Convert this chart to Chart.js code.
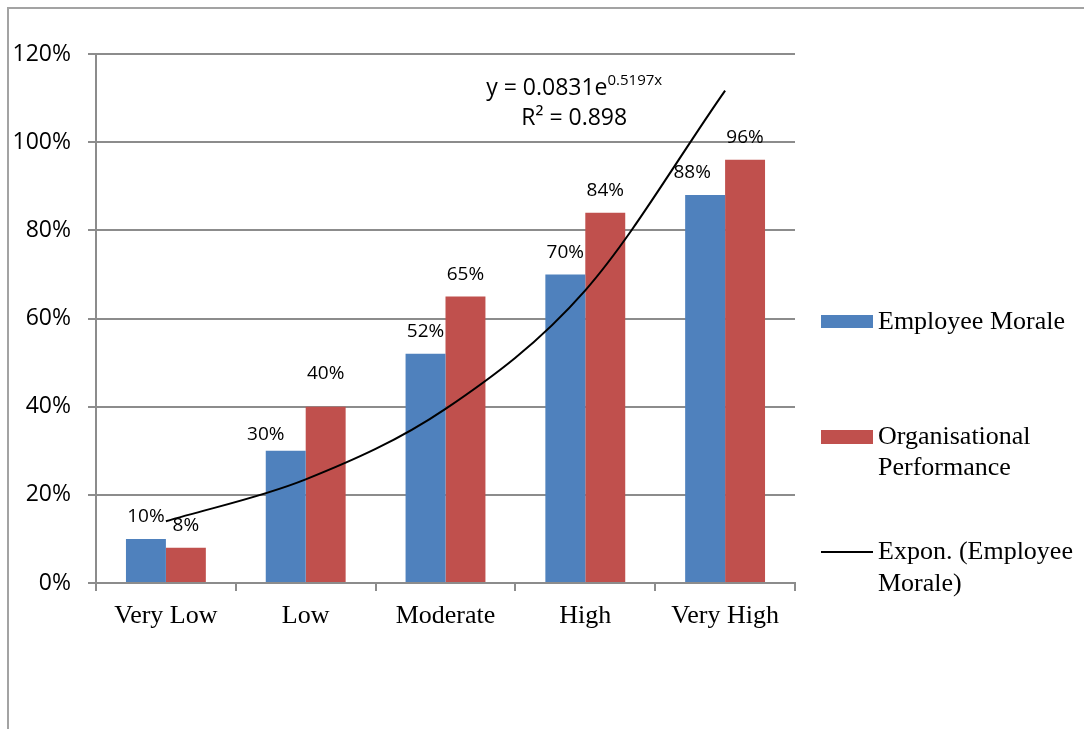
<!DOCTYPE html>
<html>
<head>
<meta charset="utf-8">
<script src="https://cdn.jsdelivr.net/npm/chart.js@4/dist/chart.umd.min.js"></script>
<style>
  html, body { margin: 0; padding: 0; background: #fff; }
  #wrap { position: relative; width: 1084px; height: 729px; overflow: hidden; }
  #frame { position: absolute; left: 7px; top: 7px; right: -10px; bottom: -10px;
           border-left: 2px solid #a3a3a3; border-top: 2px solid #a3a3a3; }
  canvas { position: absolute; left: 0; top: 0; }
</style>
</head>
<body>
<div id="wrap">
  <div id="frame"></div>
  <canvas id="chart" width="1084" height="729"></canvas>
</div>
<script>
// Survey levels and the two measured percentages
const categories = ['Very Low', 'Low', 'Moderate', 'High', 'Very High'];
const employeeMorale = [10, 30, 52, 70, 88];
const organisationalPerformance = [8, 40, 65, 84, 96];
// Exponential trend of Employee Morale at each level
const exponTrend = [14.0, 23.5, 39.5, 66.4, 111.7];
const yTicks = [0, 20, 40, 60, 80, 100, 120];
const seriesNames = ['Employee Morale', 'Organisational Performance', 'Expon. (Employee Morale)'];
const trendEquation = 'y = 0.0831e';
const trendExponent = '0.5197x';
const trendR2 = 'R\u00B2 = 0.898';

const BLUE = '#4F81BD';
const RED = '#C0504D';
const GRID = '#8c8c8c';
const SANS = '"Open Sans", "Liberation Sans", sans-serif';
const SERIF = '"Liberation Serif", "Times New Roman", serif';

// small nudges so overlapping value labels stay readable: [dataset, index, dx, dy]
const labelNudges = [[0, 1, -20, 6], [1, 1, 0, -11], [0, 4, -13, 0]];

const valueLabels = {
  id: 'valueLabels',
  afterDatasetsDraw(chart) {
    const ctx = chart.ctx;
    ctx.save();
    ctx.font = '19px ' + SANS;
    ctx.fillStyle = '#000';
    ctx.textAlign = 'center';
    ctx.textBaseline = 'middle';
    [0, 1].forEach(di => {
      const meta = chart.getDatasetMeta(di);
      const values = chart.data.datasets[di].data;
      meta.data.forEach((bar, i) => {
        let dx = 0, dy = 0;
        labelNudges.forEach(n => { if (n[0] === di && n[1] === i) { dx = n[2]; dy = n[3]; } });
        ctx.fillText(values[i] + '%', bar.x + dx, bar.y - 22 + dy);
      });
    });
    ctx.restore();
  }
};

const trendLabel = {
  id: 'trendLabel',
  afterDatasetsDraw(chart) {
    const ctx = chart.ctx;
    const xs = chart.scales.x;
    const cx = (xs.getPixelForValue(3) + xs.getPixelForValue(4)) / 2 - 81;
    ctx.save();
    ctx.fillStyle = '#000';
    ctx.textBaseline = 'middle';
    ctx.textAlign = 'left';
    const mainFont = '23px ' + SANS;
    const supFont = '15px ' + SANS;
    ctx.font = mainFont;
    const w1 = ctx.measureText(trendEquation).width;
    ctx.font = supFont;
    const w2 = ctx.measureText(trendExponent).width;
    const start = cx - (w1 + w2) / 2;
    ctx.font = mainFont;
    ctx.fillText(trendEquation, start, 88);
    ctx.font = supFont;
    ctx.fillText(trendExponent, start + w1, 81);
    ctx.font = mainFont;
    ctx.textAlign = 'center';
    ctx.fillText(trendR2, cx, 118);
    ctx.restore();
  }
};

const sideLegend = {
  id: 'sideLegend',
  afterDraw(chart) {
    const ctx = chart.ctx;
    const x0 = 821, sw = 52, tx = 878;
    ctx.save();
    ctx.font = '26px ' + SERIF;
    ctx.fillStyle = '#000';
    ctx.textAlign = 'left';
    ctx.textBaseline = 'middle';
    // Employee Morale
    ctx.fillStyle = BLUE;
    ctx.fillRect(x0, 315, sw, 13);
    ctx.fillStyle = '#000';
    ctx.fillText(seriesNames[0], tx, 322);
    // Organisational Performance (wrapped)
    ctx.fillStyle = RED;
    ctx.fillRect(x0, 430, sw, 14);
    ctx.fillStyle = '#000';
    ctx.fillText('Organisational', tx, 437);
    ctx.fillText('Performance', tx, 468);
    // Exponential trend line (wrapped)
    ctx.strokeStyle = '#000';
    ctx.lineWidth = 2;
    ctx.beginPath();
    ctx.moveTo(x0, 552);
    ctx.lineTo(x0 + sw, 552);
    ctx.stroke();
    ctx.fillText('Expon. (Employee', tx, 552);
    ctx.fillText('Morale)', tx, 584);
    ctx.restore();
  }
};

new Chart(document.getElementById('chart'), {
  type: 'bar',
  data: {
    labels: categories,
    datasets: [
      { label: seriesNames[0], data: employeeMorale, backgroundColor: BLUE, order: 1,
        categoryPercentage: 0.5714, barPercentage: 1.0 },
      { label: seriesNames[1], data: organisationalPerformance, backgroundColor: RED, order: 1,
        categoryPercentage: 0.5714, barPercentage: 1.0 },
      { type: 'line', label: seriesNames[2], data: exponTrend, borderColor: '#000',
        borderWidth: 2, pointRadius: 0, cubicInterpolationMode: 'monotone', fill: false, order: 0 }
    ]
  },
  options: {
    responsive: false,
    animation: false,
    layout: { padding: { top: 54, right: 289, left: 0, bottom: 0 } },
    plugins: { legend: { display: false }, tooltip: { enabled: false } },
    scales: {
      x: {
        grid: { display: true, drawOnChartArea: false, drawTicks: true, tickLength: 8,
                color: GRID, lineWidth: 2, offset: true },
        border: { color: GRID, width: 2 },
        ticks: { font: { family: SERIF, size: 26 }, color: '#000', padding: 10, maxRotation: 0 },
        afterFit(s) { s.height = 146; }
      },
      y: {
        min: 0, max: 120,
        afterBuildTicks(s) { s.ticks = yTicks.map(v => ({ value: v })); },
        ticks: { font: { family: SANS, size: 23 }, color: '#000', padding: 17,
                 callback: v => v + '%' },
        grid: { color: GRID, lineWidth: 2, tickLength: 8, drawTicks: true },
        border: { color: GRID, width: 2 },
        afterFit(s) { s.width = 96; }
      }
    }
  },
  plugins: [valueLabels, trendLabel, sideLegend]
});
</script>
</body>
</html>
